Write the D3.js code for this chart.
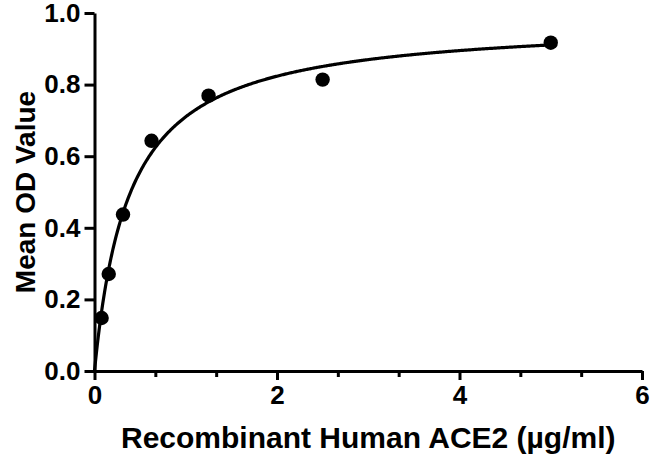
<!DOCTYPE html>
<meta charset="utf-8">
<style>
body{ margin:0; background:#fff; }
svg text{ font-family:"Liberation Sans", Arial, sans-serif; font-weight:bold; fill:#000; }
.axis path, .axis line{ fill:none; stroke:#000; stroke-width:3; }
.axis text{ font-size:26px; }
.title{ font-size:28px; }
.xtitle{ font-size:30px; }
</style>
<svg class="chart"></svg>
<script src="https://cdn.jsdelivr.net/npm/d3@7/dist/d3.min.js"></script>
<script>
var conc = [0.078, 0.156, 0.3125, 0.625, 1.25, 2.5, 5];
var od = [0.148, 0.271, 0.437, 0.643, 0.769, 0.814, 0.917];

var xTicks = [0, 2, 4, 6];
var xMinor = [2/3, 4/3, 8/3, 10/3, 14/3, 16/3];
var yTicks = [0, 0.2, 0.4, 0.6, 0.8, 1.0];

// one site binding fit
var bmax = 0.98, kd = 0.38;

var margin = {top: 13, right: 9, bottom: 84, left: 94.5};
var width = 651 - margin.left - margin.right,
	height = 455 - margin.top - margin.bottom;

var x = d3.scaleLinear().domain([0, 6]).range([0, width]);
var y = d3.scaleLinear().domain([0, 1]).range([height, 0]);

var svg = d3.select(".chart")
	.attr("width", 651)
	.attr("height", 455);
var chart = svg.append("g")
	.attr("transform", "translate(" + margin.left + "," + margin.top + ")");

// fitted curve
var fit = d3.range(0, 5.0001, 0.01).map(function(c){ return [c, bmax * c / (kd + c)]; });
chart.append("path")
	.datum(fit)
	.attr("fill", "none")
	.attr("stroke", "#000")
	.attr("stroke-width", 3.2)
	.attr("d", d3.line().x(function(d){ return x(d[0]); }).y(function(d){ return y(d[1]); }));

chart.selectAll(".dot")
	.data(conc)
	.enter().append("circle")
	.attr("class", "dot")
	.attr("cx", function(d){ return x(d); })
	.attr("cy", function(d, i){ return y(od[i]); })
	.attr("r", 7.2)
	.attr("fill", "#000");

// minor x ticks
chart.append("g")
	.attr("class", "x axis minor")
	.attr("transform", "translate(0," + height + ")")
	.call(d3.axisBottom(x).tickValues(xMinor).tickSize(6).tickFormat(""))
	.select(".domain").remove();

chart.append("g")
	.attr("class", "x axis")
	.attr("transform", "translate(0," + height + ")")
	.call(d3.axisBottom(x).tickValues(xTicks).tickSize(9).tickSizeOuter(0).tickPadding(6).tickFormat(d3.format("d")));

chart.append("g")
	.attr("class", "y axis")
	.call(d3.axisLeft(y).tickValues(yTicks).tickSize(10).tickSizeOuter(0).tickPadding(4).tickFormat(d3.format(".1f")));

svg.append("text")
	.attr("class", "title xtitle")
	.attr("text-anchor", "middle")
	.attr("x", margin.left + width / 2)
	.attr("y", 448)
	.text("Recombinant Human ACE2 (µg/ml)");

svg.append("text")
	.attr("class", "title")
	.attr("text-anchor", "middle")
	.attr("transform", "translate(35," + (margin.top + height / 2) + ") rotate(-90)")
	.text("Mean OD Value");
</script>
